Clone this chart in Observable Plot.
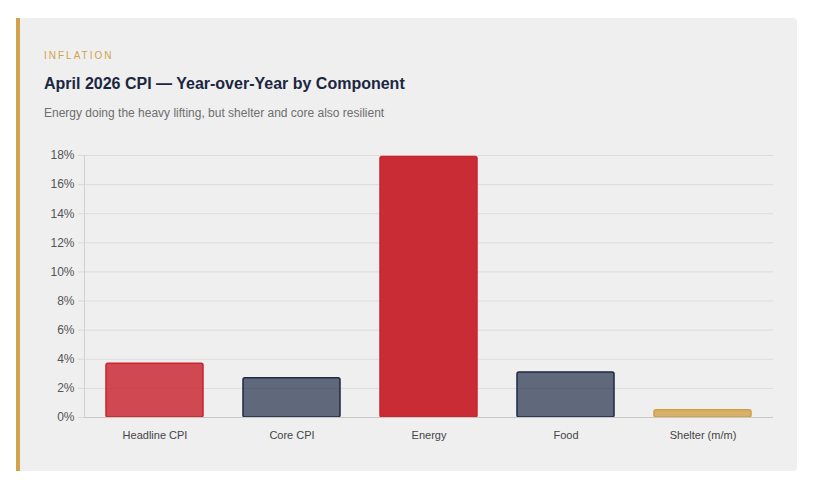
<!DOCTYPE html>
<html>
<head>
<meta charset="utf-8">
<script src="https://cdn.jsdelivr.net/npm/d3@7"></script>
<script src="https://cdn.jsdelivr.net/npm/@observablehq/plot@0.6"></script>
<style>
  html, body { margin: 0; padding: 0; background: #ffffff; }
  body { width: 814px; height: 487px; position: relative; font-family: "Liberation Sans", Arial, Helvetica, sans-serif; }
  .card {
    position: absolute; left: 16px; top: 18px; width: 777px; height: 453px;
    background: #efefef; border-left: 4px solid #d2a24c; border-radius: 0 4px 4px 0;
  }
  .eyebrow { position: absolute; left: 24px; top: 32px; font-size: 10px; letter-spacing: 2px; color: #d2a24c; }
  .title { position: absolute; left: 24px; top: 57px; font-size: 16px; font-weight: bold; color: #1b2640; }
  .subtitle { position: absolute; left: 24px; top: 88px; font-size: 12px; color: #6e6e6e; }
  #chart { position: absolute; left: 24px; top: 127px; }
</style>
</head>
<body>
<div class="card">
  <div class="eyebrow">INFLATION</div>
  <div class="title">April 2026 CPI — Year-over-Year by Component</div>
  <div class="subtitle">Energy doing the heavy lifting, but shelter and core also resilient</div>
  <div id="chart"></div>
</div>
<script>
// CPI components, year-over-year change in percent
const components = ["Headline CPI", "Core CPI", "Energy", "Food", "Shelter (m/m)"];
const values = [3.7, 2.7, 17.9, 3.1, 0.5];
const yTicks = [0, 2, 4, 6, 8, 10, 12, 14, 16, 18];

// Bar styling per component: red for headline/energy, slate for core/food, gold for shelter
const palette = {
  "Headline CPI": {fill: "#c9252f", opacity: 0.82, stroke: "#c9252f"},
  "Core CPI": {fill: "#1c2a44", opacity: 0.68, stroke: "#1c2a44"},
  "Energy": {fill: "#c92c35", opacity: 1, stroke: "#c9252f"},
  "Food": {fill: "#1c2a44", opacity: 0.68, stroke: "#1c2a44"},
  "Shelter (m/m)": {fill: "#d2a24c", opacity: 0.82, stroke: "#cf9f48"}
};

const data = components.map((c, i) => ({component: c, value: values[i]}));

const chart = Plot.plot({
  width: 729,
  height: 302,
  marginLeft: 40,
  marginRight: 0,
  marginTop: 10,
  marginBottom: 30,
  style: {background: "transparent", fontFamily: "Liberation Sans, Arial, sans-serif", fontSize: "12px", color: "#555"},
  x: {domain: components, label: null, paddingInner: 0.29, paddingOuter: 0.145},
  y: {domain: [0, 18], label: null},
  marks: [
    Plot.gridY(yTicks, {stroke: "#dcdcdc", strokeOpacity: 1}),
    Plot.frame({anchor: "left", stroke: "#d0d0d0"}),
    Plot.barY(data, {
      x: "component", y: "value",
      fill: d => palette[d.component].fill,
      fillOpacity: d => palette[d.component].opacity,
      stroke: d => palette[d.component].stroke,
      strokeWidth: 1.5, rx: 2
    }),
    Plot.ruleY([0], {stroke: "#c8c8c8"}),
    Plot.axisY({ticks: yTicks, tickFormat: d => d + "%", tickSize: 6, tickPadding: 4, stroke: "#d8d8d8", fill: "#555", fontSize: 12}),
    Plot.axisX({tickSize: 0, tickPadding: 14, fill: "#444", fontSize: 11})
  ]
});
document.getElementById("chart").appendChild(chart);
</script>
</body>
</html>
